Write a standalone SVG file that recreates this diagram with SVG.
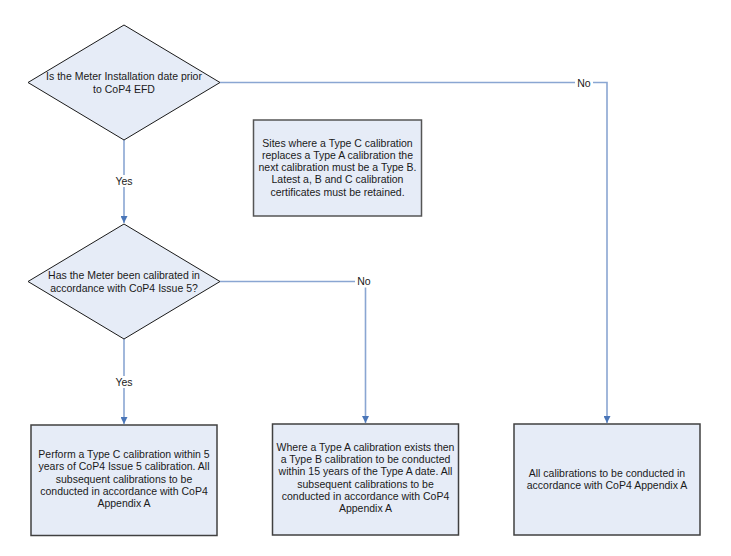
<svg xmlns="http://www.w3.org/2000/svg" width="731" height="556" viewBox="0 0 731 556">
<style>
text{font-family:"Liberation Sans",Arial,sans-serif;font-size:10.5px;fill:#1a1a1a;text-anchor:middle}
.dia{fill:#e6ecf7;stroke:#1a1a1a;stroke-width:1}
.box{fill:#e6ecf7;stroke:#404040;stroke-width:1.5}
.con{fill:none;stroke:#8aa6d2;stroke-width:1.6}
.lbl{fill:#ffffff;stroke:none}
</style>
<defs>
<marker id="arr" viewBox="0 0 10 10" refX="10" refY="5" markerWidth="7" markerHeight="7" markerUnits="userSpaceOnUse" orient="auto">
<path d="M0,0 L10,5 L0,10 z" fill="#4a76b8"/>
</marker>
</defs>
<rect width="731" height="556" fill="#ffffff"/>
<g id="connectors">
<path class="con" d="M124,140 V223" marker-end="url(#arr)"/>
<path class="con" d="M220,82.5 H607 V423" marker-end="url(#arr)"/>
<path class="con" d="M220,281.5 H365.5 V423" marker-end="url(#arr)"/>
<path class="con" d="M124,339 V424" marker-end="url(#arr)"/>
<rect class="lbl" x="112" y="175" width="24" height="12"/>
<text x="124" y="185">Yes</text>
<rect class="lbl" x="575" y="77" width="18" height="12"/>
<text x="584" y="86.5">No</text>
<rect class="lbl" x="355" y="275.5" width="18" height="12"/>
<text x="364" y="285">No</text>
<rect class="lbl" x="112" y="376" width="24" height="12"/>
<text x="124" y="386">Yes</text>
</g>
<g id="d1">
<polygon class="dia" points="124,25 220,82.5 124,140 28,82.5"/>
<text x="124" y="79.5">Is the Meter Installation date prior</text>
<text x="124" y="92.7">to CoP4 EFD</text>
</g>
<g id="note">
<rect class="box" x="253.5" y="120" width="168" height="96" style="stroke:#555555"/>
<text x="337.5" y="146.5">Sites where a Type C calibration</text>
<text x="337.5" y="158.8">replaces a Type A calibration the</text>
<text x="337.5" y="171.1">next calibration must be a Type B.</text>
<text x="337.5" y="183.4">Latest a, B and C calibration</text>
<text x="337.5" y="195.7">certificates must be retained.</text>
</g>
<g id="d2">
<polygon class="dia" points="124,224 220,281.5 124,339 28,281.5"/>
<text x="124" y="278.5">Has the Meter been calibrated in</text>
<text x="124" y="292">accordance with CoP4 Issue 5?</text>
</g>
<g id="b1">
<rect class="box" x="31" y="425" width="186" height="110.5"/>
<text x="124" y="458">Perform a Type C calibration within 5</text>
<text x="124" y="470.3">years of CoP4 Issue 5 calibration. All</text>
<text x="124" y="482.6">subsequent calibrations to be</text>
<text x="124" y="494.9">conducted in accordance with CoP4</text>
<text x="124" y="507.2">Appendix A</text>
</g>
<g id="b2">
<rect class="box" x="272.5" y="424" width="186" height="111"/>
<text x="365.5" y="451">Where a Type A calibration exists then</text>
<text x="365.5" y="463.2">a Type B calibration to be conducted</text>
<text x="365.5" y="475.4">within 15 years of the Type A date. All</text>
<text x="365.5" y="487.6">subsequent calibrations to be</text>
<text x="365.5" y="499.8">conducted in accordance with CoP4</text>
<text x="365.5" y="512">Appendix A</text>
</g>
<g id="b3">
<rect class="box" x="514" y="424" width="186" height="111"/>
<text x="607" y="476.5">All calibrations to be conducted in</text>
<text x="607" y="489">accordance with CoP4 Appendix A</text>
</g>
</svg>
